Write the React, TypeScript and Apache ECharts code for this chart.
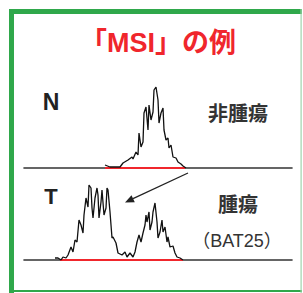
import React, { useEffect, useRef } from "react";
import * as echarts from "echarts";

// Positions along the capillary trace (arbitrary size units) and signal heights
const normalPos = [81, 86, 96, 99, 104, 108, 109, 112, 114, 115, 117, 119, 120, 122, 124, 125, 127, 129, 130, 132, 134, 135, 137, 139, 140, 142, 144, 145, 147, 149, 152, 154, 157, 159, 162];
const normalSignal = [3, 1, 1, 5, 8, 11, 9, 16, 13, 35, 21, 26, 55, 61, 38, 63, 48, 56, 78, 81, 68, 45, 55, 60, 38, 28, 30, 20, 23, 11, 10, 6, 4, 2, 0];

const tumorPos = [31, 34, 37, 39, 42, 44, 47, 49, 51, 53, 55, 57, 59, 60, 62, 64, 65, 67, 68, 69, 71, 73, 74, 75, 77, 78, 80, 82, 83, 84, 86, 88, 89, 92, 94, 98, 101, 103, 106, 109, 111, 113, 115, 117, 119, 121, 122, 123, 125, 126, 128, 129, 131, 133, 134, 136, 138, 139, 141, 143, 144, 146, 149, 151, 153, 156, 159];
const tumorSignal = [2, 2, 0, 3, 2, 5, 13, 8, 20, 18, 40, 35, 27, 45, 62, 53, 75, 72, 52, 42, 62, 72, 65, 42, 58, 70, 45, 52, 72, 70, 48, 22, 23, 17, 7, 5, 8, 3, 7, 3, 8, 18, 25, 18, 27, 35, 45, 38, 48, 30, 38, 48, 57, 38, 22, 28, 40, 28, 33, 18, 23, 13, 14, 7, 3, 2, 0];

const normalRedRange = [81, 161];
const tumorRedRange = [36, 159];

const titleText = "「MSI」の例";
const labelN = "N";
const labelT = "T";
const labelNormal = "非腫瘍";
const labelTumor = "腫瘍";
const labelMarker = "（BAT25）";

export default function App() {
  const ref = useRef<HTMLDivElement>(null);
  useEffect(() => {
    if (!ref.current) return;
    const chart = echarts.init(ref.current, null, { renderer: "svg" });
    const zip = (xs: number[], ys: number[]) => xs.map((x, i) => [x, ys[i]]);
    const xAxisBase = {
      type: "value" as const,
      min: 0,
      max: 268,
      axisLine: { show: true, onZero: false, lineStyle: { color: "#333", width: 1.6 } },
      axisTick: { show: false },
      axisLabel: { show: false },
      splitLine: { show: false },
    };
    const yAxisBase = {
      type: "value" as const,
      min: 0,
      max: 85,
      show: false,
    };
    const jp = "'Noto Sans CJK JP', sans-serif";
    const mixed = "'Liberation Sans', 'Noto Sans CJK JP', sans-serif";
    const green = "#2fa84b";
    const red = "#f0262c";
    chart.setOption({
      animation: false,
      backgroundColor: "#ffffff",
      grid: [
        { left: 24, right: 11, top: 83, bottom: 125 },
        { left: 24, right: 11, top: 175, bottom: 33 },
      ],
      xAxis: [
        { ...xAxisBase, gridIndex: 0 },
        { ...xAxisBase, gridIndex: 1 },
      ],
      yAxis: [
        { ...yAxisBase, gridIndex: 0 },
        { ...yAxisBase, gridIndex: 1 },
      ],
      series: [
        {
          type: "line",
          xAxisIndex: 0,
          yAxisIndex: 0,
          data: [[normalRedRange[0], 0], [normalRedRange[1], 0]],
          showSymbol: false,
          lineStyle: { color: red, width: 2 },
          z: 3,
        },
        {
          type: "line",
          xAxisIndex: 0,
          yAxisIndex: 0,
          data: zip(normalPos, normalSignal),
          showSymbol: false,
          lineStyle: { color: "#111", width: 1.3 },
          z: 4,
        },
        {
          type: "line",
          xAxisIndex: 1,
          yAxisIndex: 1,
          data: [[tumorRedRange[0], 0], [tumorRedRange[1], 0]],
          showSymbol: false,
          lineStyle: { color: red, width: 2 },
          z: 3,
        },
        {
          type: "line",
          xAxisIndex: 1,
          yAxisIndex: 1,
          data: zip(tumorPos, tumorSignal),
          showSymbol: false,
          lineStyle: { color: "#111", width: 1.3 },
          z: 4,
        },
      ],
      graphic: [
        { type: "rect", shape: { x: 9, y: 9, width: 293, height: 5 }, style: { fill: green } },
        { type: "rect", shape: { x: 9, y: 9, width: 5, height: 284 }, style: { fill: green } },
        { type: "rect", shape: { x: 9, y: 290, width: 293, height: 2 }, style: { fill: green } },
        { type: "rect", shape: { x: 300.5, y: 9, width: 1.2, height: 284 }, style: { fill: "#9fd3ad" } },
        {
          type: "text",
          x: 158,
          y: 43,
          style: {
            text: titleText,
            fill: red,
            font: `bold 27px ${mixed}`,
            textAlign: "center",
            textVerticalAlign: "middle",
          },
        },
        {
          type: "text",
          x: 51,
          y: 102,
          style: {
            text: labelN,
            fill: "#222",
            font: "bold 23px 'Liberation Sans', Arial, sans-serif",
            textAlign: "center",
            textVerticalAlign: "middle",
          },
        },
        {
          type: "text",
          x: 51,
          y: 196,
          style: {
            text: labelT,
            fill: "#222",
            font: "bold 22px 'Liberation Sans', Arial, sans-serif",
            textAlign: "center",
            textVerticalAlign: "middle",
          },
        },
        {
          type: "text",
          x: 238,
          y: 112,
          style: {
            text: labelNormal,
            fill: "#333",
            font: `bold 20px ${jp}`,
            textAlign: "center",
            textVerticalAlign: "middle",
          },
        },
        {
          type: "text",
          x: 238,
          y: 203,
          style: {
            text: labelTumor,
            fill: "#333",
            font: `bold 20px ${jp}`,
            textAlign: "center",
            textVerticalAlign: "middle",
          },
        },
        {
          type: "text",
          x: 237,
          y: 241,
          style: {
            text: labelMarker,
            fill: "#333",
            font: `18px ${mixed}`,
            textAlign: "center",
            textVerticalAlign: "middle",
          },
        },
        {
          type: "line",
          shape: { x1: 188, y1: 173, x2: 133, y2: 198.7 },
          style: { stroke: "#222", lineWidth: 1.3 },
        },
        {
          type: "polygon",
          shape: { points: [[125, 202.5], [134.8, 202.2], [131.5, 195.2]] },
          style: { fill: "#222" },
        },
      ],
    });
    return () => chart.dispose();
  }, []);
  return (
    <div
      ref={ref}
      style={{ position: "fixed", left: 0, top: 0, width: 303, height: 293 }}
    />
  );
}
